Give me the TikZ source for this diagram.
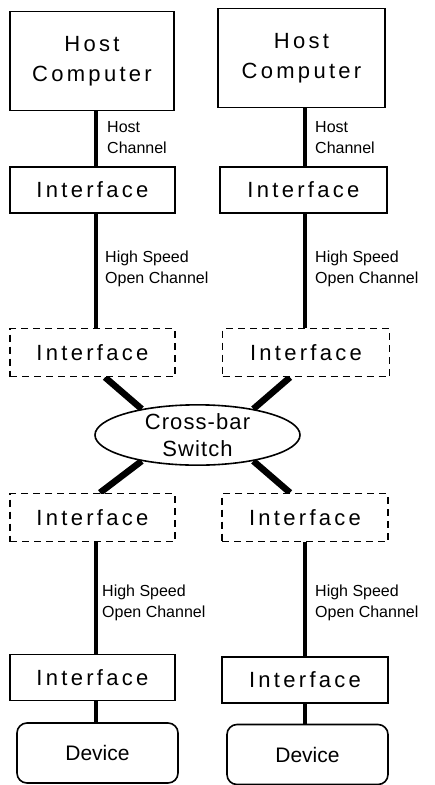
\documentclass[tikz,border=0pt]{standalone}
\usepackage{fontspec}
\setmainfont{Liberation Sans}
\newfontfamily\trackedfont[LetterSpace=15]{Liberation Sans}
\newfontfamily\lighttrack[LetterSpace=5]{Liberation Sans}
\usetikzlibrary{shapes.geometric, backgrounds, calc}

\tikzset{
  box/.style={draw, line width=1.6pt, fill=white, inner sep=0pt, align=center,
    font=\fontsize{22}{30}\trackedfont},
  hostbox/.style={box, minimum width=#1, minimum height=99pt},
  ifbox/.style={box, minimum width=#1, minimum height=46pt},
  dashbox/.style={box, dash pattern=on 7pt off 5pt, minimum width=#1, minimum height=48pt},
  devbox/.style={draw, line width=1.6pt, fill=white, rounded corners=10pt, inner sep=0pt,
    minimum width=161pt, minimum height=60pt, font=\fontsize{21}{25}\selectfont},
  switchshape/.style={draw, ellipse, line width=1.6pt, fill=white, inner sep=0pt, align=center,
    minimum width=205pt, minimum height=60pt, font=\fontsize{22}{26.5}\lighttrack},
  lbl/.style={anchor=north west, inner sep=0pt, align=left, font=\fontsize{16}{20.5}\selectfont},
  chan/.style={line width=4.5pt},
  trunk/.style={line width=6.5pt},
}

\begin{document}
\begin{tikzpicture}[x=1pt, y=-1pt]
\useasboundingbox (0,0) rectangle (435,785);

% column lines
\coordinate (colL) at (96,0);
\coordinate (colR) at (305,0);

% left column
\node[hostbox=164pt] (hostL) at (92,61) {Host\\Computer};
\node[ifbox=165pt] (ifTL) at (92.5,190) {Interface};
\node[dashbox=165pt] (dUL) at (92.5,352.5) {Interface};
\node[dashbox=165pt] (dLL) at (92.5,517.5) {Interface};
\node[ifbox=165pt] (ifBL) at (92.5,677.5) {Interface};
\node[devbox] (devL) at (97.5,753) {Device};

% right column
\node[hostbox=167pt] (hostR) at (301.5,58) {Host\\Computer};
\node[ifbox=167pt] (ifTR) at (303.5,190) {Interface};
\node[dashbox=167pt] (dUR) at (306,352.5) {Interface};
\node[dashbox=166pt] (dLR) at (305,517.5) {Interface};
\node[ifbox=166pt] (ifBR) at (305,680) {Interface};
\node[devbox] (devR) at (307.5,754.5) {Device};

% switch
\node[switchshape] (sw) at (197.5,435) {Cross-bar\\Switch};

% channel labels
\node[lbl] (hcL) at (107,121.5) {Host\\Channel};
\node[lbl] (hcR) at (315,121.5) {Host\\Channel};
\node[lbl] (hsUL) at (105,251) {High Speed\\Open Channel};
\node[lbl] (hsUR) at (315,251) {High Speed\\Open Channel};
\node[lbl] (hsLL) at (102,585) {High Speed\\Open Channel};
\node[lbl] (hsLR) at (315,585) {High Speed\\Open Channel};

\begin{scope}[on background layer]
  % vertical channels
  \draw[chan] (hostL.south -| colL) -- (ifTL.north -| colL);
  \draw[chan] (ifTL.south -| colL) -- (dUL.north -| colL);
  \draw[chan] (dLL.south -| colL) -- (ifBL.north -| colL);
  \draw[chan] (ifBL.south -| colL) -- (devL.north -| colL);
  \draw[chan] (hostR.south -| colR) -- (ifTR.north -| colR);
  \draw[chan] (ifTR.south -| colR) -- (dUR.north -| colR);
  \draw[chan] (dLR.south -| colR) -- (ifBR.north -| colR);
  \draw[chan] (ifBR.south -| colR) -- (devR.north -| colR);
  % trunks to the switch
  \draw[trunk] ($(dUL.south)+(12.5,0)$) -- (sw.155);
  \draw[trunk] ($(dUR.south)+(-16,0)$) -- (sw.25);
  \draw[trunk] ($(dLL.north)+(7.5,0)$) -- (sw.205);
  \draw[trunk] ($(dLR.north)+(-15,0)$) -- (sw.335);
\end{scope}
\end{tikzpicture}
\end{document}
